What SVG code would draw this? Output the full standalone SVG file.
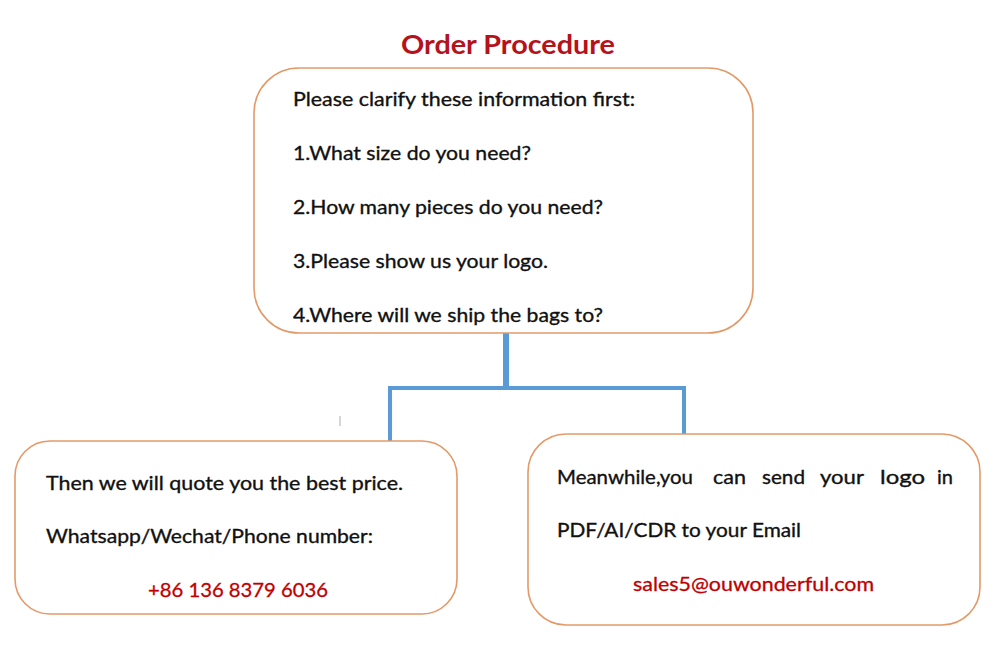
<svg xmlns="http://www.w3.org/2000/svg" width="1000" height="650" viewBox="0 0 1000 650">
  <style>
    .box { fill: #ffffff; stroke: #e39a68; stroke-width: 1.6; }
    .t { font-family: Lato, "Liberation Sans", sans-serif; font-size: 20px; fill: #111111; stroke: #111111; stroke-width: 0.35; }
    .red { font-family: Lato, "Liberation Sans", sans-serif; font-size: 20px; fill: #c00000; stroke: #c00000; stroke-width: 0.3; }
    .title { font-family: Lato, "Liberation Sans", sans-serif; font-size: 27px; font-weight: bold; fill: #b5121b; }
    .conn { fill: none; stroke: #5b9bd5; stroke-linecap: butt; }
  </style>
  <rect width="1000" height="650" fill="#ffffff"/>
  <text class="title" x="508" y="54" text-anchor="middle" textLength="214" lengthAdjust="spacingAndGlyphs">Order Procedure</text>

  <g id="connectors">
    <line class="conn" x1="506" y1="333" x2="506" y2="388" stroke-width="6"/>
    <polyline class="conn" points="390,441 390,388 684,388 684,434" stroke-width="4"/>
  </g>
  <line x1="340" y1="416" x2="340" y2="426" stroke="#c8c8c8" stroke-width="1.5"/>

  <g id="node-top">
    <rect class="box" x="254" y="68" width="499" height="265" rx="45" ry="45"/>
    <text class="t" x="293" y="106" textLength="342" lengthAdjust="spacingAndGlyphs">Please clarify these information first:</text>
    <text class="t" x="293" y="160" textLength="238" lengthAdjust="spacingAndGlyphs">1.What size do you need?</text>
    <text class="t" x="293" y="214" textLength="310" lengthAdjust="spacingAndGlyphs">2.How many pieces do you need?</text>
    <text class="t" x="293" y="268" textLength="255" lengthAdjust="spacingAndGlyphs">3.Please show us your logo.</text>
    <text class="t" x="293" y="322" textLength="310" lengthAdjust="spacingAndGlyphs">4.Where will we ship the bags to?</text>
  </g>

  <g id="node-left">
    <rect class="box" x="15" y="441" width="442" height="173" rx="35" ry="35"/>
    <text class="t" x="46" y="490" textLength="357" lengthAdjust="spacingAndGlyphs">Then we will quote you the best price.</text>
    <text class="t" x="46" y="543" textLength="327" lengthAdjust="spacingAndGlyphs">Whatsapp/Wechat/Phone number:</text>
    <text class="red" x="148" y="597" textLength="180" lengthAdjust="spacingAndGlyphs">+86 136 8379 6036</text>
  </g>

  <g id="node-right">
    <rect class="box" x="528" y="434" width="452" height="191" rx="38" ry="38"/>
    <text class="t" x="557" y="484" textLength="136" lengthAdjust="spacingAndGlyphs">Meanwhile,you</text>
    <text class="t" x="713" y="484" textLength="33" lengthAdjust="spacingAndGlyphs">can</text>
    <text class="t" x="762" y="484" textLength="43" lengthAdjust="spacingAndGlyphs">send</text>
    <text class="t" x="820" y="484" textLength="44" lengthAdjust="spacingAndGlyphs">your</text>
    <text class="t" x="880" y="484" textLength="45" lengthAdjust="spacingAndGlyphs">logo</text>
    <text class="t" x="937" y="484" textLength="16" lengthAdjust="spacingAndGlyphs">in</text>
    <text class="t" x="557" y="537" textLength="244" lengthAdjust="spacingAndGlyphs">PDF/AI/CDR to your Email</text>
    <text class="red" x="633" y="591" textLength="241" lengthAdjust="spacingAndGlyphs">sales5@ouwonderful.com</text>
  </g>
</svg>
